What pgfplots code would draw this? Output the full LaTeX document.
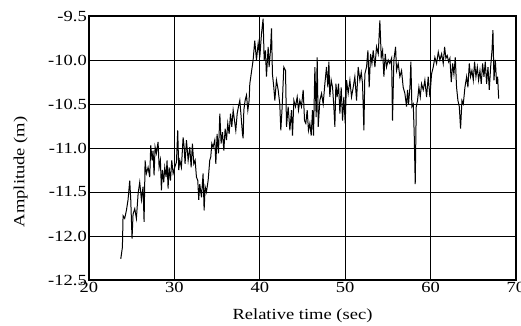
\documentclass[border=0pt]{standalone}
\usepackage{fontspec}
\setmainfont{Liberation Serif}[FakeStretch=1.2]
\usepackage{pgfplots}
\pgfplotsset{compat=1.18}
\begin{document}
\begin{tikzpicture}
\path[use as bounding box] (-89bp,-46bp) rectangle (432bp,280bp);
\begin{axis}[
  at={(0,0)}, anchor=south west,
  scale only axis, width=427bp, height=264bp,
  xmin=20, xmax=70, ymin=-12.5, ymax=-9.5,
  xtick={20,30,...,70},
  ytick={-12.5,-12,-11.5,-11,-10.5,-10,-9.5},
  yticklabel style={/pgf/number format/fixed, /pgf/number format/fixed zerofill, /pgf/number format/precision=1},
  /pgf/number format/assume math mode=true,
  tick label style={font=\fontsize{15.5}{15.5}\selectfont},
  label style={font=\fontsize{15.5}{15.5}\selectfont},
  xlabel={Relative time (sec)},
  ylabel={Amplitude (m)},
  major tick length=0pt,
  grid=major,
  major grid style={black, line width=0.7bp},
  axis line style={black, line width=1.2bp},
  xlabel style={yshift=-12bp},
  ylabel style={at={(ticklabel cs:0.41)}, yshift=15bp},
  xticklabel style={inner sep=1bp, yshift=-1bp},
  yticklabel style={inner sep=2bp},
]
\addplot[black, line width=1bp] coordinates {
(23.72,-12.26) (23.91,-12.13) (23.99,-11.77) (24.18,-11.80) (24.38,-11.71) (24.57,-11.59)
(24.77,-11.37) (24.89,-11.59) (25.04,-12.03) (25.16,-11.75) (25.36,-11.69) (25.55,-11.80)
(25.75,-11.52) (25.94,-11.39) (26.14,-11.59) (26.33,-11.44) (26.45,-11.84) (26.57,-11.14)
(26.72,-11.29) (26.92,-11.22) (27.11,-11.33) (27.23,-10.97) (27.39,-11.14) (27.50,-11.03)
(27.62,-11.31) (27.74,-10.99) (27.89,-11.06) (28.09,-10.93) (28.21,-11.22) (28.36,-11.14)
(28.48,-11.48) (28.60,-11.25) (28.75,-11.39) (28.87,-11.22) (29.03,-11.33) (29.14,-11.14)
(29.26,-11.46) (29.38,-11.22) (29.54,-11.37) (29.69,-11.14) (29.85,-11.29) (30.04,-11.22)
(30.24,-11.16) (30.39,-10.80) (30.51,-11.25) (30.63,-11.14) (30.82,-11.22) (31.02,-10.88)
(31.14,-10.99) (31.25,-11.18) (31.41,-10.91) (31.61,-11.14) (31.80,-10.99) (31.96,-11.22)
(32.11,-10.95) (32.27,-11.18) (32.43,-11.14) (32.58,-11.33) (32.74,-11.37) (32.85,-11.59)
(32.97,-11.41) (33.17,-11.56) (33.36,-11.29) (33.48,-11.71) (33.60,-11.44) (33.75,-11.50)
(33.95,-11.37) (34.14,-11.14) (34.26,-11.10) (34.38,-10.95) (34.53,-10.99) (34.73,-10.91)
(34.85,-11.18) (35.00,-10.84) (35.16,-11.06) (35.32,-10.61) (35.47,-10.95) (35.63,-10.82)
(35.79,-11.03) (35.94,-10.78) (36.10,-10.91) (36.25,-10.72) (36.41,-10.84) (36.57,-10.61)
(36.72,-10.76) (36.88,-10.57) (37.04,-10.69) (37.19,-10.80) (37.35,-10.61) (37.50,-10.53)
(37.66,-10.46) (37.82,-10.65) (37.97,-10.84) (38.05,-10.89) (38.13,-10.57) (38.28,-10.46)
(38.44,-10.40) (38.60,-10.57) (38.75,-10.46) (38.83,-10.27) (39.22,-10.00) (39.41,-9.78)
(39.61,-10.00) (39.81,-9.81) (40.00,-9.97) (40.20,-9.70) (40.39,-9.53) (40.51,-10.00)
(40.66,-9.89) (40.78,-10.19) (40.98,-9.85) (41.09,-10.08) (41.25,-9.89) (41.37,-9.64)
(41.48,-10.16) (41.64,-10.31) (41.76,-10.46) (41.95,-10.23) (42.15,-10.34) (42.34,-10.50)
(42.46,-10.80) (42.62,-10.53) (42.81,-10.08) (43.01,-10.12) (43.13,-10.76) (43.32,-10.53)
(43.52,-10.80) (43.71,-10.57) (43.83,-10.86) (43.99,-10.46) (44.18,-10.53) (44.38,-10.42)
(44.53,-10.57) (44.69,-10.46) (44.88,-10.53) (45.08,-10.34) (45.24,-10.69) (45.39,-10.72)
(45.55,-10.57) (45.70,-10.80) (45.86,-10.72) (46.02,-10.86) (46.17,-10.57) (46.29,-10.86)
(46.45,-10.08) (46.60,-10.65) (46.72,-9.97) (46.84,-10.76) (47.03,-10.46) (47.23,-10.38)
(47.42,-10.50) (47.62,-10.27) (47.81,-10.08) (47.97,-10.31) (48.09,-10.02) (48.20,-10.42)
(48.36,-10.23) (48.52,-10.31) (48.67,-10.53) (48.79,-10.76) (48.91,-10.27) (49.06,-10.42)
(49.22,-10.27) (49.38,-10.61) (49.53,-10.31) (49.69,-10.69) (49.84,-10.42) (50.00,-10.72)
(50.16,-10.23) (50.35,-10.38) (50.55,-10.23) (50.74,-10.42) (50.94,-10.31) (51.13,-10.19)
(51.33,-10.46) (51.52,-10.08) (51.72,-10.23) (51.88,-10.14) (52.03,-10.27) (52.19,-10.80)
(52.30,-10.16) (52.50,-10.08) (52.66,-9.89) (52.81,-10.31) (52.97,-9.93) (53.13,-10.04)
(53.28,-9.89) (53.48,-10.08) (53.67,-9.85) (53.87,-9.93) (54.06,-9.55) (54.22,-9.97)
(54.38,-9.89) (54.53,-10.19) (54.69,-9.93) (54.84,-10.08) (55.04,-10.00) (55.23,-10.04)
(55.43,-9.98) (55.54,-10.69) (55.70,-10.00) (55.90,-9.85) (56.01,-10.12) (56.21,-10.04)
(56.40,-10.19) (56.60,-10.12) (56.79,-10.31) (56.99,-10.38) (57.18,-10.53) (57.30,-10.34)
(57.42,-10.50) (57.58,-10.31) (57.69,-10.02) (57.81,-10.53) (57.97,-10.50) (58.08,-10.84)
(58.20,-11.41) (58.32,-10.53) (58.47,-10.46) (58.63,-10.31) (58.79,-10.42) (58.94,-10.27)
(59.14,-10.34) (59.33,-10.23) (59.53,-10.42) (59.72,-10.19) (59.92,-10.42) (60.11,-10.16)
(60.31,-10.08) (60.50,-9.97) (60.70,-10.04) (60.90,-9.91) (61.09,-10.00) (61.29,-9.93)
(61.48,-10.04) (61.64,-9.85) (61.79,-9.98) (61.95,-9.95) (62.11,-10.02) (62.26,-9.98)
(62.42,-10.25) (62.58,-10.04) (62.73,-10.16) (62.89,-9.97) (63.04,-10.31) (63.20,-10.46)
(63.36,-10.53) (63.51,-10.78) (63.67,-10.46) (63.83,-10.50) (64.02,-10.31) (64.22,-10.19)
(64.37,-10.31) (64.53,-10.04) (64.68,-10.19) (64.84,-10.12) (65.00,-10.23) (65.15,-10.02)
(65.31,-10.19) (65.47,-10.08) (65.62,-10.23) (65.78,-10.12) (65.93,-10.27) (66.09,-10.04)
(66.25,-10.19) (66.40,-10.02) (66.56,-10.27) (66.72,-10.08) (66.87,-10.34) (67.03,-10.08)
(67.19,-9.89) (67.30,-9.66) (67.42,-10.23) (67.58,-10.00) (67.73,-10.27) (67.85,-10.19)
(67.97,-10.44)
};
\end{axis}
\end{tikzpicture}
\end{document}
